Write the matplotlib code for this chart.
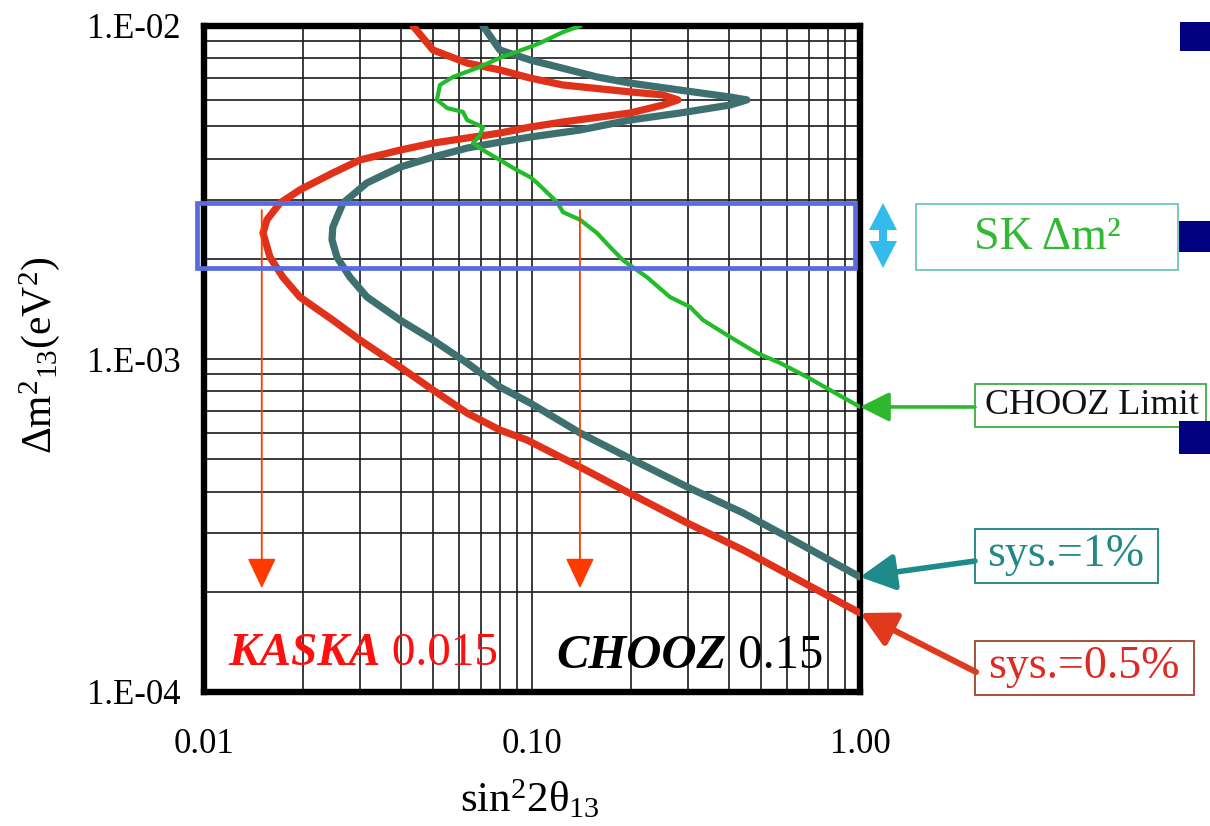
import numpy as np
import matplotlib
matplotlib.use('Agg')
import matplotlib.pyplot as plt
from matplotlib.patches import Rectangle, Polygon
from matplotlib.ticker import FixedLocator, LogLocator, NullFormatter

plt.rcParams['font.family'] = ['Liberation Serif', 'DejaVu Serif']
plt.rcParams['mathtext.fontset'] = 'custom'
plt.rcParams['mathtext.rm'] = 'Liberation Serif'
plt.rcParams['mathtext.it'] = 'Liberation Serif:italic'
plt.rcParams['mathtext.bf'] = 'Liberation Serif:bold'

# ---------------- data ----------------
# sys.=0.5% (KASKA) sensitivity contour
sys05_x = [0.0434, 0.0499, 0.0634, 0.0798, 0.0986, 0.1243, 0.199, 0.2506, 0.2786,
           0.2506, 0.199, 0.1243, 0.0986, 0.0798, 0.0634, 0.0499, 0.0396, 0.0299,
           0.0247, 0.0196, 0.01705, 0.01556, 0.01513, 0.0159, 0.0174, 0.0196,
           0.0247, 0.0299, 0.0396, 0.0499, 0.0634, 0.0798, 0.0966, 0.140, 0.1949,
           0.297, 0.440, 0.625, 1.0]
sys05_y = [0.0100, 0.00847, 0.00774, 0.00738, 0.00698, 0.00665, 0.00634, 0.00621, 0.00600,
           0.00579, 0.00548, 0.00515, 0.00497, 0.00477, 0.00461, 0.00445, 0.00424, 0.00396,
           0.00362, 0.00322, 0.00294, 0.00262, 0.00239, 0.00202, 0.00176, 0.001535,
           0.001309, 0.00114, 0.000946, 0.000807, 0.000688, 0.000612, 0.000571, 0.000474,
           0.000399, 0.000322, 0.000267, 0.0002215, 0.0001727]

# sys.=1% sensitivity contour
sys1_x = [0.0709, 0.0798, 0.0986, 0.1578, 0.199, 0.2827, 0.4016, 0.4521, 0.4016,
          0.2827, 0.199, 0.140, 0.0986, 0.0798, 0.0634, 0.0499, 0.0396, 0.0314,
          0.02653, 0.0247, 0.02456, 0.02544, 0.02787, 0.0314, 0.0396, 0.0499,
          0.0634, 0.0798, 0.0986, 0.140, 0.1949, 0.297, 0.440, 0.625, 1.0]
sys1_y = [0.0100, 0.00847, 0.00791, 0.00703, 0.00674, 0.00642, 0.00612, 0.00600, 0.00579,
          0.00548, 0.00522, 0.00487, 0.00464, 0.00448, 0.00430, 0.00404, 0.00377, 0.00338,
          0.00294, 0.00249, 0.00228, 0.00202, 0.00176, 0.001535, 0.001309, 0.00114,
          0.000973, 0.000824, 0.000738, 0.000600, 0.000508, 0.000413, 0.000345,
          0.000286, 0.0002215]

# CHOOZ exclusion limit
chooz_x = [0.140, 0.1243, 0.1058, 0.0986, 0.0798, 0.0680, 0.0574, 0.0524, 0.0513,
           0.0551, 0.0616, 0.0634, 0.0709, 0.0694, 0.0661, 0.0709, 0.0798, 0.0900,
           0.0986, 0.1036, 0.1192, 0.1243, 0.140, 0.1578, 0.1729, 0.1894, 0.2242,
           0.2634, 0.3032, 0.3321, 0.4016, 0.4853, 0.5704, 0.6894, 0.810, 1.0]
chooz_y = [0.0100, 0.00959, 0.00889, 0.00865, 0.00802, 0.00748, 0.00703, 0.00665, 0.00600,
           0.00567, 0.00552, 0.00522, 0.00497, 0.00471, 0.00445, 0.00424, 0.00396, 0.00369,
           0.00352, 0.00338, 0.00296, 0.00276, 0.00262, 0.00239, 0.00217, 0.00198, 0.00176,
           0.001535, 0.001433, 0.001309, 0.001165, 0.001042, 0.000973, 0.000883,
           0.000807, 0.000718]

x_ticks = [0.01, 0.1, 1.0]
x_tick_labels = ['0.01', '0.10', '1.00']
y_ticks = [1e-4, 1e-3, 1e-2]
y_tick_labels = ['1.E-04', '1.E-03', '1.E-02']

sk_dm2_range = [1.88e-3, 2.94e-3]
sk_box_x = [0.0095, 0.966]
kaska_value = 0.015
chooz_value = 0.14
arrow_top = 2.8e-3
arrow_bottom = 2.05e-4

# ---------------- figure ----------------
W, H = 1210, 826
fig = plt.figure(figsize=(W / 100, H / 100), dpi=100)
fig.patch.set_facecolor('white')
ax = fig.add_axes([204 / W, (H - 692) / H, 656 / W, 666 / H])
ax.set_xscale('log')
ax.set_yscale('log')
ax.set_xlim(0.01, 1.0)
ax.set_ylim(1e-4, 1e-2)

ax.xaxis.set_major_locator(FixedLocator(x_ticks))
ax.xaxis.set_ticklabels(x_tick_labels)
ax.yaxis.set_major_locator(FixedLocator(y_ticks))
ax.yaxis.set_ticklabels(y_tick_labels)
ax.xaxis.set_minor_locator(LogLocator(base=10, subs=np.arange(2, 10)))
ax.yaxis.set_minor_locator(LogLocator(base=10, subs=np.arange(2, 10)))
ax.xaxis.set_minor_formatter(NullFormatter())
ax.yaxis.set_minor_formatter(NullFormatter())
ax.grid(which='both', color='#1a1a1a', lw=1.2)
ax.tick_params(which='both', length=0)
ax.tick_params(axis='x', pad=26, labelsize=25)
ax.tick_params(axis='y', pad=17, labelsize=25)
for s in ax.spines.values():
    s.set_linewidth(4.6)
    s.set_color('black')

ax.set_xlabel(r'$\mathrm{sin^{2}2\theta_{13}}$', fontsize=31, va='center')
ax.xaxis.set_label_coords(0.497, -0.162)
ax.set_ylabel(r'$\mathrm{\Delta m^{2}{}_{13}(eV^{2})}$', fontsize=30, va='center')
ax.yaxis.set_label_coords(-0.25, 0.506)

# curves
ax.plot(sys1_x, sys1_y, color='#3f7070', lw=5.2, solid_capstyle='round',
        solid_joinstyle='round', zorder=3)
ax.plot(sys05_x, sys05_y, color='#e0321a', lw=5.2, solid_capstyle='round',
        solid_joinstyle='round', zorder=3.1)
ax.plot(chooz_x, chooz_y, color='#22bb2a', lw=3.0, solid_joinstyle='round', zorder=3.2)

# SK delta m^2 band
ax.add_patch(Rectangle((sk_box_x[0], sk_dm2_range[0]), sk_box_x[1] - sk_box_x[0],
                       sk_dm2_range[1] - sk_dm2_range[0], fill=False,
                       ec='#5a6be0', lw=3.4, clip_on=False, zorder=6))

# red arrows
for xv in (kaska_value, chooz_value):
    ax.annotate('', xy=(xv, arrow_bottom), xytext=(xv, arrow_top),
                arrowprops=dict(arrowstyle='-|>,head_length=0.95,head_width=0.45',
                                mutation_scale=20, color='#ff3a00', lw=1.3,
                                shrinkA=0, shrinkB=0), zorder=5)

# in-plot labels
t1 = ax.text(0.0366, 0.040, 'KASKA', transform=ax.transAxes, color='#ff1010',
             fontsize=34, fontweight='bold', fontstyle='italic', va='baseline', zorder=7)
ax.annotate(' 0.015', xy=(1, 0), xycoords=t1, va='bottom', ha='left',
            color='#ff1010', fontsize=34, zorder=7)
t2 = ax.text(0.5366, 0.036, 'CHOOZ', transform=ax.transAxes, color='black',
             fontsize=35, fontweight='bold', fontstyle='italic', va='baseline', zorder=7)
ax.annotate(' 0.15', xy=(1, 0), xycoords=t2, va='bottom', ha='left',
            color='black', fontsize=35, zorder=7)

# arrows from labels to curve ends
def pointer(xy, start, color, lw, hl, hw):
    ax.annotate('', xy=xy, xycoords='data', xytext=(start[0], H - start[1]),
                textcoords='figure pixels', annotation_clip=False,
                arrowprops=dict(arrowstyle=f'-|>,head_length={hl},head_width={hw}',
                                mutation_scale=20, color=color, lw=lw,
                                shrinkA=0, shrinkB=0), zorder=8)

pointer((chooz_x[-1], chooz_y[-1]), (975, 407), '#2eb82e', 2.6, 0.9, 0.45)
pointer((sys1_x[-1], sys1_y[-1]), (975, 561), '#1e8a8a', 4.0, 1.05, 0.55)
pointer((sys05_x[-1], sys05_y[-1]), (976, 672), '#e03a1e', 4.4, 1.05, 0.55)

# overlay (figure pixel coordinates) for annotation boxes
ov = fig.add_axes([0, 0, 1, 1], zorder=10)
ov.set_xlim(0, W)
ov.set_ylim(H, 0)
ov.axis('off')
ov.patch.set_alpha(0)

ov.add_patch(Rectangle((916, 204), 262, 66, fill=False, ec='#6cc8b8', lw=1.3))
ov.text(1047, 238, 'SK Δm²', color='#33b833', fontsize=33, ha='center', va='center')

ov.add_patch(Rectangle((975, 384), 231, 43, fill=False, ec='#3cb043', lw=1.3))
ov.text(1092, 406, 'CHOOZ Limit', color='#111111', fontsize=26, ha='center', va='center')

ov.add_patch(Rectangle((975, 529), 183, 54, fill=False, ec='#2a8a8a', lw=1.4))
ov.text(1066, 555, 'sys.=1%', color='#238888', fontsize=33, ha='center', va='center')

ov.add_patch(Rectangle((975, 641), 219, 54, fill=False, ec='#a5503a', lw=1.4))
ov.text(1084, 667, 'sys.=0.5%', color='#dd2a22', fontsize=33, ha='center', va='center')

# light blue double arrow
ov.add_patch(Polygon([(869, 230), (897, 230), (883, 203)], closed=True, fc='#33bbee', ec='none'))
ov.add_patch(Polygon([(869, 241), (897, 241), (883, 268)], closed=True, fc='#33bbee', ec='none'))
ov.add_patch(Rectangle((879, 228), 8, 15, fc='#33bbee', ec='none'))

# slide bullet squares at right edge
for (bx, by, bw, bh) in [(1180, 22, 30, 29), (1179, 221, 31, 31), (1179, 421, 31, 33)]:
    ov.add_patch(Rectangle((bx, by), bw, bh, fc='#000080', ec='none'))

fig.savefig('out.png', dpi=100)
